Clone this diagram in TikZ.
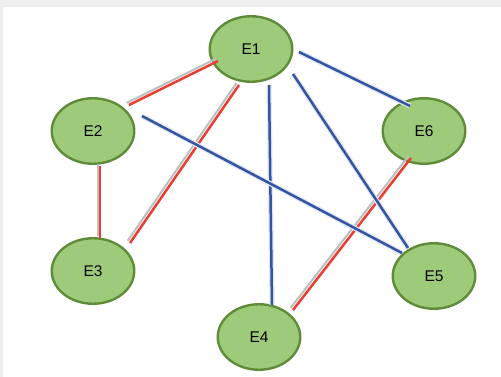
\documentclass[tikz,border=0pt]{standalone}
\usepackage{fontspec}
\setmainfont{Liberation Sans}
\usetikzlibrary{shapes.geometric}
\definecolor{nodefill}{RGB}{158,203,122}
\definecolor{nodeline}{RGB}{96,140,58}
\definecolor{redline}{RGB}{232,62,52}
\definecolor{blueline}{RGB}{52,86,162}
\definecolor{shadowgray}{RGB}{190,192,192}
\definecolor{frame}{RGB}{238,238,238}
\tikzset{
  ent/.style={ellipse, draw=nodeline, fill=nodefill, line width=2.4pt,
    minimum width=82.5pt, minimum height=65.5pt, inner sep=0pt,
    font=\fontsize{15.5}{17}\selectfont},
  redrel/.style={draw=redline, line width=2.5pt,
    preaction={draw=shadowgray, line width=2pt, transform canvas={shift={(-2.4,-2.1)}}}},
  bluerel/.style={draw=blueline, line width=2.5pt,
    preaction={draw=blueline!15, line width=5pt}}
}
\begin{document}
\begin{tikzpicture}[x=1pt,y=-1pt]
\useasboundingbox (0,0) rectangle (501,377);
\fill[white] (0,0) rectangle (501,377);
\fill[frame] (0,0) rectangle (501,7);
\fill[frame] (0,0) rectangle (3,377);
\node[ent] (E1) at (251,49) {E1};
\node[ent] (E2) at (93,131) {E2};
\node[ent] (E6) at (424,131) {E6};
\node[ent] (E3) at (93,271) {E3};
\node[ent] (E5) at (434,276) {E5};
\node[ent] (E4) at (259,337) {E4};
% red relations
\draw[redrel] ([shift={(-33,12)}]E1.center) -- ([shift={(36,-26)}]E2.center);
\draw[redrel] ([shift={(-12,36)}]E1.center) -- ([shift={(37,-28)}]E3.center);
\draw[redrel] ([shift={(7,35)}]E2.center) -- ([shift={(7,-33)}]E3.center);
\draw[redrel] ([shift={(34,-27)}]E4.center) -- ([shift={(-13,27)}]E6.center);
% blue relations
\draw[bluerel] ([shift={(18,36)}]E1.center) -- ([shift={(13,-32)}]E4.center);
\draw[bluerel] ([shift={(42,25)}]E1.center) -- ([shift={(-26,-28)}]E5.center);
\draw[bluerel] ([shift={(48,3)}]E1.center) -- ([shift={(-14,-25)}]E6.center);
\draw[bluerel] ([shift={(49,-15)}]E2.center) -- ([shift={(-32,-23)}]E5.center);
\end{tikzpicture}
\end{document}
